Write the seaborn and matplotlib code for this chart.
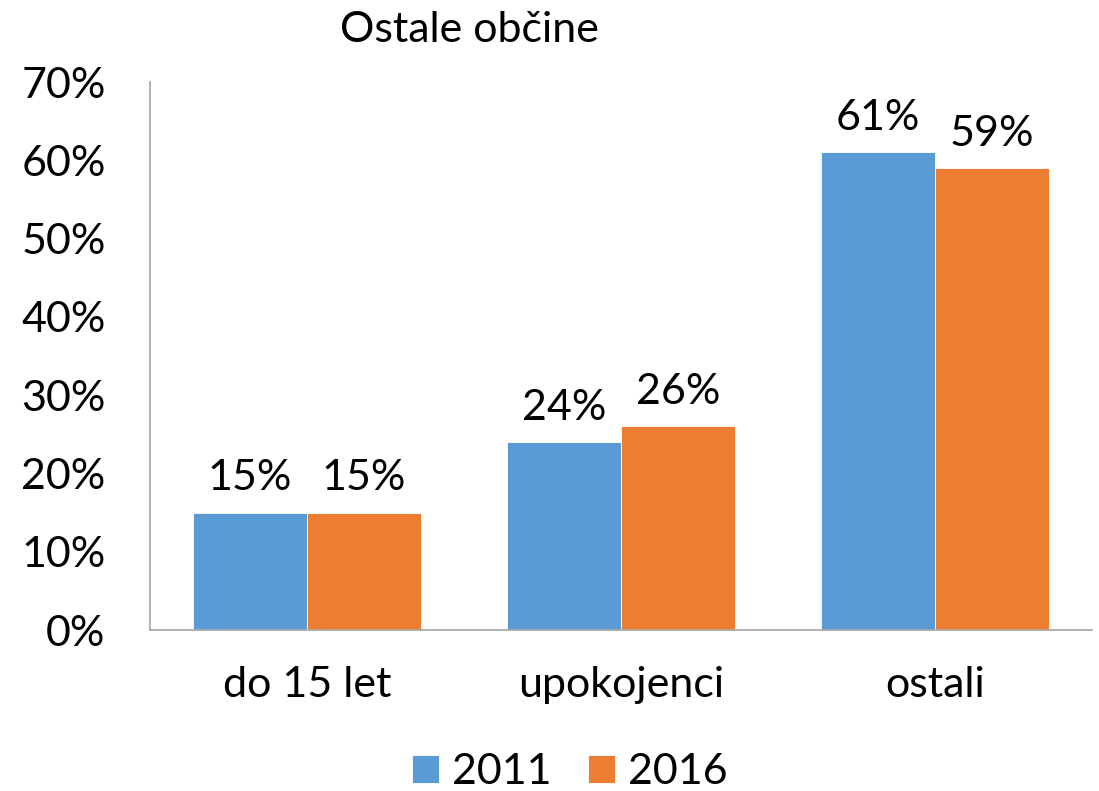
import matplotlib
matplotlib.use("Agg")
import matplotlib.pyplot as plt
import seaborn as sns
import pandas as pd
from matplotlib.ticker import PercentFormatter

categories = ["do 15 let", "upokojenci", "ostali"]
years = ["2011", "2016"]
values_2011 = [15, 24, 61]
values_2016 = [15, 26, 59]

colors = ["#5B9BD5", "#ED7D31"]

df = pd.DataFrame({
    "kategorija": categories * 2,
    "leto": [years[0]] * 3 + [years[1]] * 3,
    "delez": values_2011 + values_2016,
})

sns.set_style("white")
plt.rcParams["font.family"] = ["Lato", "DejaVu Sans"]
plt.rcParams["text.color"] = "black"
plt.rcParams["xtick.color"] = "black"
plt.rcParams["ytick.color"] = "black"

FS = 31

fig = plt.figure(figsize=(10.99, 7.91), dpi=100)
ax = fig.add_axes([150 / 1099, 1 - 630 / 791, 942 / 1099, 548 / 791])

sns.barplot(data=df, x="kategorija", y="delez", hue="leto", palette=colors,
            width=0.726, saturation=1, ax=ax, edgecolor="white", linewidth=0.6)

for cont in ax.containers:
    ax.bar_label(cont, labels=[f"{v:.0f}%" for v in cont.datavalues],
                 padding=11, fontsize=FS, color="black")

ax.set_ylim(0, 70)
ax.set_xlim(-0.5, 2.5)
ax.set_yticks(range(0, 71, 10))
ax.yaxis.set_major_formatter(PercentFormatter(decimals=0))
ax.tick_params(axis="both", length=0, labelsize=FS, colors="black")
ax.tick_params(axis="y", pad=32)
ax.tick_params(axis="x", pad=26)
ax.set_xlabel("")
ax.set_ylabel("")

for side in ["top", "right"]:
    ax.spines[side].set_visible(False)
for side in ["left", "bottom"]:
    ax.spines[side].set_color("#A6A6A6")
    ax.spines[side].set_linewidth(1.2)

fig.text(340 / 1099, 1 - 30 / 791, "Ostale občine", fontsize=FS,
         ha="left", va="center", color="black")

ax.legend(loc="center", bbox_to_anchor=(570 / 1099, 1 - 772 / 791),
          bbox_transform=fig.transFigure, ncol=2, frameon=False,
          fontsize=FS, handlelength=0.63, handleheight=0.63,
          handletextpad=0.3, columnspacing=0.85)

fig.savefig("out.png", dpi=100)
